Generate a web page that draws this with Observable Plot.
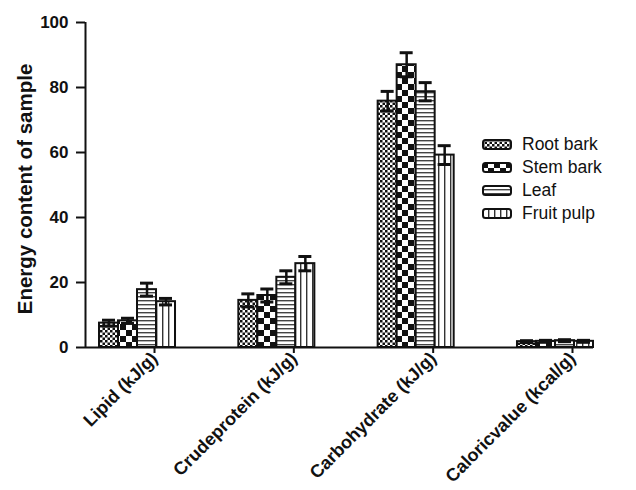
<!DOCTYPE html>
<html>
<head>
<meta charset="utf-8">
<script src="https://cdn.jsdelivr.net/npm/d3@7"></script>
<script src="https://cdn.jsdelivr.net/npm/@observablehq/plot@0.6"></script>
<style>
  html, body { margin: 0; padding: 0; background: #fff; }
  #wrap { position: relative; width: 636px; height: 490px; font-family: "Liberation Sans", Arial, sans-serif; }
  #wrap svg { font-family: "Liberation Sans", Arial, sans-serif; }
  g[aria-label="y-axis label"] text { font-size: 20.5px; }
  #legend { position: absolute; left: 482px; top: 133px; font-size: 17.5px; color: #111; }
  #legend .row { display: flex; align-items: center; height: 23px; }
  #legend svg { margin-right: 10px; }
</style>
</head>
<body>
<div id="wrap"><div id="legend"></div></div>
<script>
// ---- data ----
const categories = ["Lipid (kJ/g)", "Crudeprotein (kJ/g)", "Carbohydrate (kJ/g)", "Caloricvalue (kcal/g)"];
const series = ["Root bark", "Stem bark", "Leaf", "Fruit pulp"];
const rootBark    = [7.5, 14.5, 75.8, 1.8];
const stemBark    = [8.2, 16.0, 87.0, 1.9];
const leaf        = [17.8, 21.6, 78.7, 2.1];
const fruitPulp   = [14.1, 25.8, 59.2, 1.9];
const rootBarkErr = [0.9, 2.0, 3.0, 0.3];
const stemBarkErr = [0.8, 2.0, 3.7, 0.3];
const leafErr     = [2.0, 2.0, 2.8, 0.3];
const fruitPulpErr= [1.0, 2.2, 2.9, 0.3];
const yTicks = [0, 20, 40, 60, 80, 100];
const yLabel = "Energy content of sample";

// ---- layout ----
const unitPx = 139.3;           // px per category step
const groupShift = -17 / unitPx; // bars sit left of the tick
const barW = 19 / unitPx;
const capHalf = 6.5 / unitPx;
const xDomain = [-69 / unitPx, 3 + 21 / unitPx];
const patternIds = ["pRoot", "pStem", "pLeaf", "pFruit"];

const values = [rootBark, stemBark, leaf, fruitPulp];
const errs = [rootBarkErr, stemBarkErr, leafErr, fruitPulpErr];
const rows = [];
series.forEach((s, j) => {
  categories.forEach((c, i) => {
    const xc = i + groupShift + (j - 1.5) * barW;
    rows.push({series: s, si: j, cat: c, i, value: values[j][i], err: errs[j][i],
      x1: xc - barW / 2, x2: xc + barW / 2, xc});
  });
});

const defsMarkup = `
<pattern id="pRoot" patternUnits="userSpaceOnUse" width="5" height="5">
  <rect width="5" height="5" fill="#fff"/>
  <rect x="0" y="0" width="2.5" height="2.5" fill="#111"/>
  <rect x="2.5" y="2.5" width="2.5" height="2.5" fill="#111"/>
</pattern>
<pattern id="pStem" patternUnits="userSpaceOnUse" width="12" height="12">
  <rect width="12" height="12" fill="#fff"/>
  <rect x="0" y="0" width="6" height="6" fill="#111"/>
  <rect x="6" y="6" width="6" height="6" fill="#111"/>
</pattern>
<pattern id="pLeaf" patternUnits="userSpaceOnUse" width="4" height="4">
  <rect width="4" height="4" fill="#fff"/>
  <rect x="0" y="0" width="4" height="1.4" fill="#444"/>
</pattern>
<pattern id="pFruit" patternUnits="userSpaceOnUse" width="6" height="6">
  <rect width="6" height="6" fill="#fff"/>
  <rect x="0" y="0" width="1.4" height="6" fill="#333"/>
</pattern>`;

const defsMark = () => {
  const g = document.createElementNS("http://www.w3.org/2000/svg", "defs");
  g.innerHTML = defsMarkup;
  return g;
};

const marks = [defsMark];
series.forEach((s, j) => {
  marks.push(Plot.rectY(rows.filter(d => d.si === j), {
    x1: "x1", x2: "x2", y1: 0, y2: "value",
    fill: `url(#${patternIds[j]})`, stroke: "#111", strokeWidth: 2
  }));
});
marks.push(
  Plot.ruleX(rows, {x: "xc", y1: d => d.value - d.err, y2: d => d.value + d.err, stroke: "#111", strokeWidth: 2.5}),
  Plot.ruleY(rows, {y: d => d.value + d.err, x1: d => d.xc - capHalf, x2: d => d.xc + capHalf, stroke: "#111", strokeWidth: 3}),
  Plot.ruleY(rows, {y: d => d.value - d.err, x1: d => d.xc - capHalf, x2: d => d.xc + capHalf, stroke: "#111", strokeWidth: 3}),
  Plot.ruleY([0], {stroke: "#111", strokeWidth: 2}),
  Plot.ruleX([xDomain[0]], {stroke: "#111", strokeWidth: 2}),
  Plot.axisY({ticks: yTicks, tickSize: 9, tickPadding: 8, fontSize: 17, fontWeight: "bold",
    strokeWidth: 2, label: yLabel, labelArrow: "none", labelAnchor: "center", labelOffset: 75}),
  Plot.axisX({ticks: [0, 1, 2, 3], tickFormat: i => categories[i], tickSize: 6, tickPadding: 2,
    tickRotate: -45, fontSize: 18, fontWeight: "bold", strokeWidth: 2, label: null})
);

const chart = Plot.plot({
  width: 636,
  height: 490,
  marginTop: 22,
  marginBottom: 143,
  marginLeft: 85,
  marginRight: 43,
  style: {color: "#111", background: "#fff", overflow: "visible"},
  x: {type: "linear", domain: xDomain},
  y: {domain: [0, 100]},
  marks
});
// make sure no arrow glyph remains in the y label
chart.querySelectorAll('g[aria-label="y-axis label"] text').forEach(t => { t.textContent = yLabel; t.setAttribute("dy", "0.32em"); t.setAttribute("dx", "-4"); });
document.getElementById("wrap").prepend(chart);

// legend
const legend = document.getElementById("legend");
series.forEach((s, j) => {
  const row = document.createElement("div");
  row.className = "row";
  row.innerHTML = `<svg width="30" height="11"><rect x="1" y="1" width="28" height="9" rx="2.5" fill="url(#${patternIds[j]})" stroke="#111" stroke-width="2"/></svg><span>${s}</span>`;
  legend.appendChild(row);
});
</script>
</body>
</html>
